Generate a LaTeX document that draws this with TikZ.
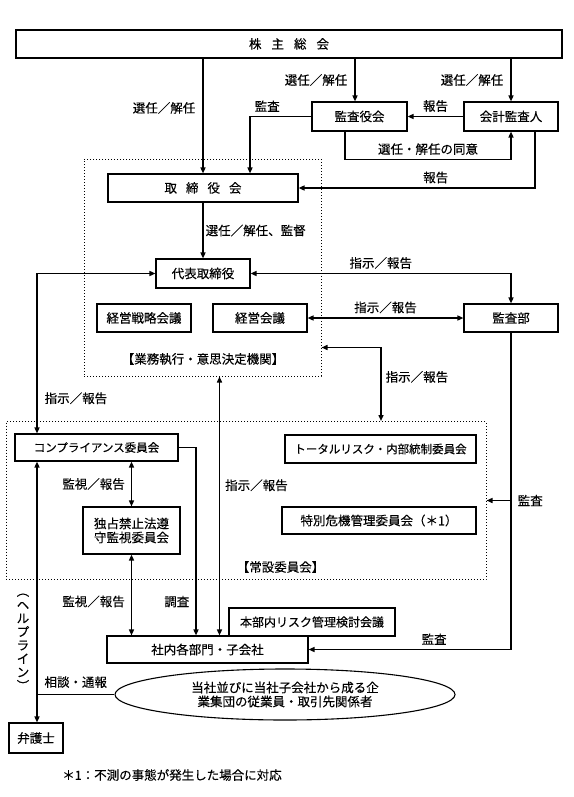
\documentclass[tikz,border=0pt]{standalone}
\usepackage{fontspec}
\setmainfont{Noto Sans CJK JP}[FakeBold=0.3]
\usetikzlibrary{arrows.meta,shapes.geometric,positioning}

\begin{document}
\begin{tikzpicture}[x=1pt,y=-1pt,
				>={Triangle[length=6pt,width=5pt]},
				cuadro/.style={draw,line width=1.1pt,inner sep=0pt,align=center},
				marco/.style={draw,dotted,line width=1pt,inner sep=0pt},
				etiqueta/.style={inner sep=1pt},
				linea/.style={line width=1.4pt},
				flecha/.style={linea,->},
				doble/.style={linea,<->}]
	      \useasboundingbox (0,0) rectangle (573,797);
	      {\fontsize{12.5}{14}\selectfont
	      % Marcos punteados
	      \node[marco,minimum width=237pt,minimum height=217pt] (gyomu) at (202.5,267.5) {};
	      \node[marco,minimum width=480pt,minimum height=158pt] (josetsu) at (246,500.5) {};
	      % Definir las cajas
	      \node[cuadro,minimum width=546pt,minimum height=28pt] (kabunushi) at (289,44)
		{株\hspace{10pt}主\hspace{10pt}総\hspace{10pt}会};
	      \node[cuadro,minimum width=95pt,minimum height=29pt] (kansayaku) at (359.5,116.5) {監査役会};
	      \node[cuadro,minimum width=94pt,minimum height=29pt] (kaikei) at (511,116.5) {会計監査人};
	      \node[cuadro,minimum width=190pt,minimum height=28pt] (torishimari) at (203,188)
		{取\hspace{9pt}締\hspace{9pt}役\hspace{9pt}会};
	      \node[cuadro,minimum width=94pt,minimum height=29pt] (daihyo) at (203,273.5) {代表取締役};
	      \node[cuadro,minimum width=94pt,minimum height=28pt] (senryaku) at (144,318) {経営戦略会議};
	      \node[cuadro,minimum width=94pt,minimum height=28pt] (keiei) at (260,318) {経営会議};
	      \node[cuadro,minimum width=94pt,minimum height=28pt] (kansabu) at (511,318) {監査部};
	      \node (gyomulbl) at (203,359) {【業務執行・意思決定機関】};
	      \node[cuadro,minimum width=163pt,minimum height=27pt,font=\fontsize{11.5}{14}\selectfont]
		(compliance) at (96.5,447.5) {コンプライアンス委員会};
	      \node[cuadro,minimum width=191pt,minimum height=28pt,font=\fontsize{11.5}{14}\selectfont]
		(total) at (380.5,449) {トータルリスク・内部統制委員会};
	      \node[cuadro,minimum width=97pt,minimum height=47pt] (dokusen) at (131.5,530.5)
		{独占禁止法遵\\守監視委員会};
	      \node[cuadro,minimum width=194pt,minimum height=27pt] (tokubetsu) at (379,520.5)
		{特別危機管理委員会（＊1）};
	      \node (josetsulbl) at (280.5,567) {【常設委員会】};
	      \node[cuadro,minimum width=166pt,minimum height=28pt,font=\fontsize{12}{14}\selectfont]
		(honbu) at (312,622) {本部内リスク管理検討会議};
	      \node[cuadro,minimum width=201pt,minimum height=27pt] (shanai) at (207.5,649.5) {社内各部門・子会社};
	      \node[cuadro,ellipse,minimum width=340pt,minimum height=51pt] (elipse) at (285,694.5)
		{当社並びに当社子会社から成る企\\業集団の従業員・取引先関係者};
	      \node[cuadro,minimum width=54pt,minimum height=30pt] (bengoshi) at (36,738) {弁護士};
	      \node[align=center,font=\fontsize{12.5}{13.5}\selectfont] (helpline) at (23,642)
		{︵\\ヘ\\ル\\プ\\ラ\\イ\\ン\\︶};
	      \node (nota) at (172,775) {＊1：不測の事態が発生した場合に対応};
	      % Conectores
	      \coordinate (hl) at (37,694.5);
	      \coordinate (kp) at ([xshift=-4.5pt]kansayaku.north);
	      \coordinate (sh) at ([xshift=12pt]shanai.north);
	      \draw[flecha] (kabunushi.south -| torishimari.north) -- (torishimari.north)
		node[etiqueta,pos=0.43,left=6pt] {選任／解任};
	      \draw[flecha] (kabunushi.south -| kp) -- (kp) node[etiqueta,midway,left=6pt] {選任／解任};
	      \draw[flecha] (kabunushi.south -| kaikei.north) -- (kaikei.north)
		node[etiqueta,midway,left=6pt] {選任／解任};
	      \draw[flecha] (kaikei.west) -- (kansayaku.east) node[etiqueta,midway,above=3pt] {報告};
	      \draw[flecha] (kansayaku.west) -| ([xshift=47pt]torishimari.north)
		node[etiqueta,pos=0.5,above right=3pt and 3pt] {監査};
	      \draw[flecha] ([xshift=-14.5pt]kansayaku.south) -- ++(0,28) -| (kaikei.south)
		node[etiqueta,pos=0.25,above=3pt] {選任・解任の同意};
	      \draw[flecha] ([xshift=24pt]kaikei.south) |- (torishimari.east)
		node[etiqueta,pos=0.71,above=3pt] {報告};
	      \draw[flecha] (torishimari.south) -- (daihyo.north)
		node[etiqueta,midway,right=1pt] {選任／解任、監督};
	      \draw[doble] (daihyo.east) -| (kansabu.north) node[etiqueta,pos=0.25,above=3pt] {指示／報告};
	      \draw[doble] (keiei.east) -- (kansabu.west) node[etiqueta,midway,above=3pt] {指示／報告};
	      \draw[doble] ([yshift=29pt]gyomu.south east) -| ([xshift=135pt]josetsu.north)
		node[etiqueta,pos=0.7,right=3pt] {指示／報告};
	      \draw[doble] (daihyo.west) -| (compliance.north -| hl)
		node[etiqueta,pos=0.89,right=6pt] {指示／報告};
	      \draw[doble] (gyomu.south -| sh) -- (sh) node[etiqueta,pos=0.42,right=4pt] {指示／報告};
	      \draw[doble] (compliance.south -| dokusen.north) -- (dokusen.north)
		node[etiqueta,midway,left=5pt] {監視／報告};
	      \draw[doble] (dokusen.south) -- (dokusen.south |- shanai.north)
		node[etiqueta,pos=0.58,left=5pt] {監視／報告};
	      \draw[flecha] (compliance.east) -| ([xshift=-11.5pt]shanai.north)
		node[etiqueta,pos=0.91,left=5pt] {調査};
	      \draw[flecha] (kansabu.south) |- (shanai.east) node[etiqueta,pos=0.69,above=3pt] {監査};
	      \draw[flecha] (kansabu.south |- josetsu.east) node[etiqueta,right=5pt] {監査} -- (josetsu.east);
	      % Linea de ayuda
	      \draw[linea] (elipse.west) -- (hl) node[etiqueta,midway,above=5pt] {相談・通報};
	      \draw[flecha] (hl) -- (compliance.south -| hl);
	      \draw[flecha] (hl) -- (bengoshi.north -| hl);
	      }
\end{tikzpicture}
\end{document}
